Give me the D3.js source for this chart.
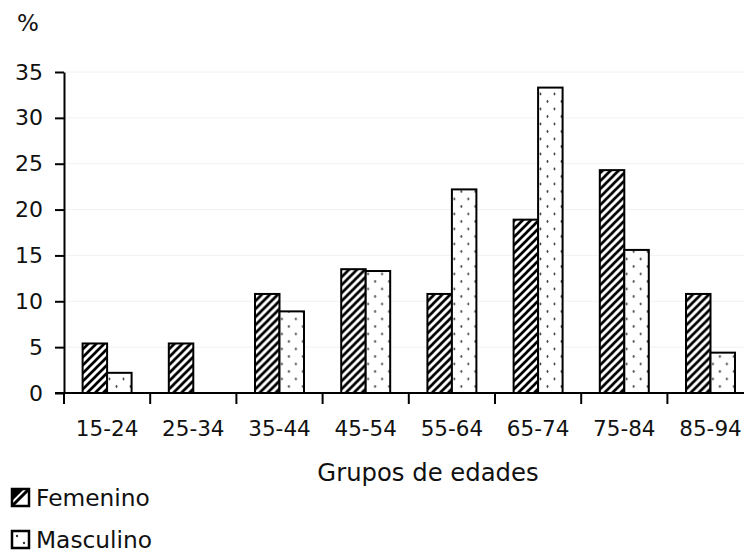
<!DOCTYPE html>
<html><head><meta charset="utf-8">
<script src="https://cdn.jsdelivr.net/npm/d3@7"></script>
<style>
html,body{margin:0;padding:0;background:#fff;}
svg{display:block;font-family:"DejaVu Sans",Verdana,sans-serif;}
</style></head>
<body>
<svg id="c" width="744" height="552"></svg>
<script>
const categories = ["15-24","25-34","35-44","45-54","55-64","65-74","75-84","85-94"];
const series = ["Femenino","Masculino"];
const femenino = [5.4, 5.4, 10.8, 13.5, 10.8, 18.9, 24.3, 10.8];
const masculino = [2.2, 0, 8.9, 13.3, 22.2, 33.3, 15.6, 4.4];
const yTicks = [0,5,10,15,20,25,30,35];
const yLabel = "%";
const xTitle = "Grupos de edades";

const svg = d3.select("#c");
const x0 = 64, yBase = 393, yTop = 72, bandW = 86.2;
const x = d3.scaleBand().domain(categories).range([x0, x0 + bandW*categories.length]).padding(0);
const xs = d3.scaleBand().domain(series).range([0, x.bandwidth()]).paddingInner(0).paddingOuter(0.76);
const y = d3.scaleLinear().domain([0,35]).range([yBase, yTop]);

const defs = svg.append("defs");
const hatch = defs.append("pattern").attr("id","hatch").attr("patternUnits","userSpaceOnUse")
  .attr("width",8).attr("height",8);
hatch.append("rect").attr("width",8).attr("height",8).attr("fill","#fff");
hatch.append("path").attr("d","M-2,2 L2,-2 M0,8 L8,0 M6,10 L10,6")
  .attr("stroke","#000").attr("stroke-width",2.7);
const dots = defs.append("pattern").attr("id","dots").attr("patternUnits","userSpaceOnUse")
  .attr("width",14).attr("height",15);
dots.append("rect").attr("width",14).attr("height",15).attr("fill","#fff");
dots.append("ellipse").attr("cx",3.5).attr("cy",4).attr("rx",0.9).attr("ry",1.4).attr("fill","#444");
dots.append("ellipse").attr("cx",10.5).attr("cy",11.5).attr("rx",0.9).attr("ry",1.4).attr("fill","#444");

// faint gridlines
svg.append("g").selectAll("line").data(yTicks.filter(d=>d>0)).join("line")
  .attr("x1", x0).attr("x2", 744).attr("y1", d=>y(d)).attr("y2", d=>y(d))
  .attr("stroke","#f2f2f2").attr("stroke-width",1);

const data = categories.map((c,i)=>({c, vals:[{s:"Femenino",v:femenino[i]},{s:"Masculino",v:masculino[i]}]}));
const g = svg.append("g");
g.selectAll("g").data(data).join("g").attr("transform", d=>`translate(${x(d.c)},0)`)
  .selectAll("rect").data(d=>d.vals.filter(v=>v.v>0)).join("rect")
  .attr("x", d=>xs(d.s)).attr("width", xs.bandwidth())
  .attr("y", d=>y(d.v)).attr("height", d=>yBase - y(d.v))
  .attr("fill", d=>d.s==="Femenino" ? "url(#hatch)" : "url(#dots)")
  .attr("stroke","#000").attr("stroke-width",2);

// Y axis
const yAxis = svg.append("g").attr("transform",`translate(${x0},0)`)
  .call(d3.axisLeft(y).tickValues(yTicks).tickSize(9).tickPadding(12).tickSizeOuter(0));
yAxis.select(".domain").attr("stroke","#000").attr("stroke-width",2);
yAxis.selectAll(".tick line").attr("stroke","#000").attr("stroke-width",2);
yAxis.selectAll(".tick text").attr("font-size",22).attr("fill","#111").attr("font-family","DejaVu Sans");

// X axis
const xAxis = svg.append("g").attr("transform",`translate(0,${yBase})`)
  .call(d3.axisBottom(x).tickSize(0).tickPadding(28));
xAxis.select(".domain").remove();
xAxis.append("line").attr("x1",x0-9).attr("x2",744).attr("stroke","#000").attr("stroke-width",2);
xAxis.selectAll(".tick text").attr("font-size",21.5).attr("fill","#111").attr("font-family","DejaVu Sans");
xAxis.append("g").selectAll("line").data(categories).join("line")
  .attr("x1", d=>x(d)).attr("x2", d=>x(d)).attr("y1",0).attr("y2",11)
  .attr("stroke","#000").attr("stroke-width",2);

svg.append("text").attr("x",28).attr("y",31).attr("text-anchor","middle")
  .attr("font-size",23).attr("fill","#111").text(yLabel);
svg.append("text").attr("x",428).attr("y",481).attr("text-anchor","middle")
  .attr("font-size",24.3).attr("fill","#111").text(xTitle);

// legend
const leg = svg.append("g");
const legY = [489, 531];
series.forEach((s,i)=>{
  const lg = leg.append("g").attr("transform",`translate(12,${legY[i]})`);
  lg.append("rect").attr("width",17).attr("height",17).attr("fill","#fff")
    .attr("stroke","#000").attr("stroke-width",2.5);
  if (s==="Femenino") {
    lg.append("path").attr("d","M1,16 L16,1 M1,1 L1,9 L9,1 Z").attr("stroke","#000").attr("stroke-width",3).attr("fill","#000");
  } else {
    lg.append("circle").attr("cx",5).attr("cy",5).attr("r",1.2).attr("fill","#333");
    lg.append("circle").attr("cx",12).attr("cy",12).attr("r",1.2).attr("fill","#333");
  }
  lg.append("text").attr("x",24).attr("y",17).attr("font-size",23.3).attr("fill","#111").text(s);
});
</script>
</body></html>
